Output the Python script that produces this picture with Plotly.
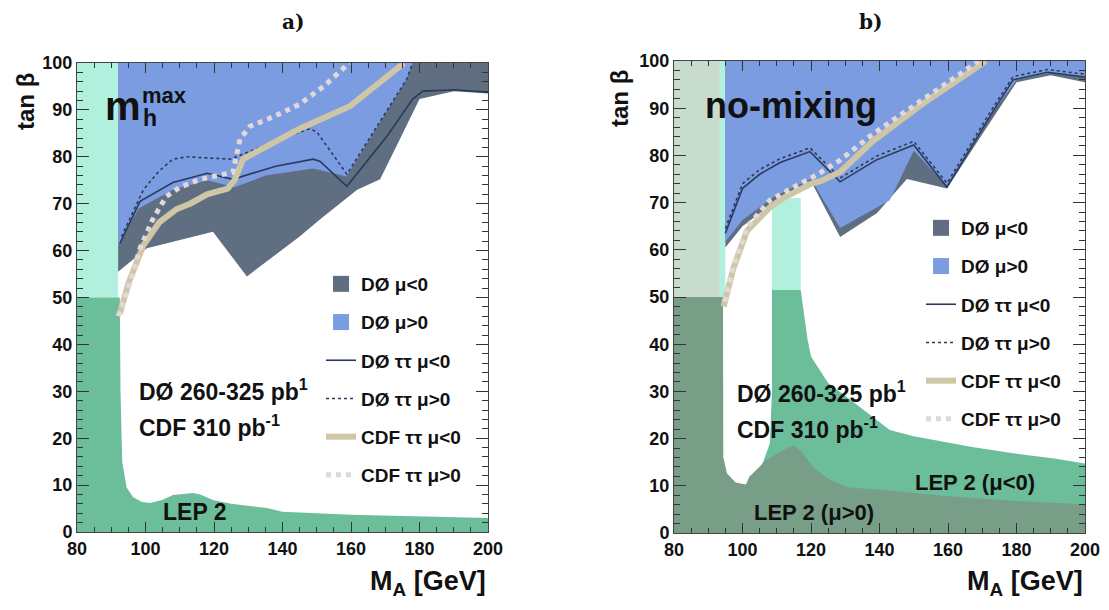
import plotly.graph_objects as go

# ---------------- Panel a) m_h^max ----------------
a_strip_x = [80, 92]
a_strip_y = [50, 100]
a_lep_x = [80, 92.5, 92.7, 93.2, 94.5, 96.4, 99, 101.3, 105, 108, 113.9, 116, 119.7, 125, 135.5, 140, 160, 180, 200]
a_lep_y = [50, 50, 30, 15, 9.5, 7.4, 6.4, 6.2, 6.9, 7.9, 8.3, 8.0, 6.8, 6.0, 5.1, 4.3, 3.7, 3.3, 3.0]
a_grey_x = [92, 100.4, 119.7, 129.6, 145, 151, 161.8, 168.5, 174.3, 180, 190, 200]
a_grey_y = [55.5, 60.5, 64, 54.5, 63, 66.7, 73, 75.2, 83.8, 92.3, 94, 93.5]
a_blue_x = [92, 98, 108, 118, 126, 135, 149, 158.7, 176.3, 178]
a_blue_y = [61, 69, 73, 75, 73.5, 76, 77.5, 75.8, 96.6, 100]
a_d0neg_x = [92.5, 98.4, 108, 118, 125.5, 138, 149, 151, 158.8, 170.5, 178, 181, 190, 200]
a_d0neg_y = [61.5, 70.5, 74.5, 76.5, 75.2, 78, 79.5, 79, 73.7, 84.4, 92.3, 94, 94.3, 93.8]
a_d0pos_x = [93, 99.4, 104, 108, 112, 124.7, 130, 140, 148, 150, 158.8, 176.3, 178]
a_d0pos_y = [63, 73, 77, 79.5, 80, 79.5, 81, 84, 86, 85.3, 76.3, 96.6, 100]
a_cdfneg_x = [92.5, 95, 99.3, 104, 109, 113, 118, 124, 126, 128.5, 135.5, 145, 159.7, 175.5]
a_cdfneg_y = [46.5, 53, 61, 66, 68.8, 70, 72, 73.2, 75, 79.5, 82.3, 86, 90.8, 100]
a_cdfpos_x = [92, 95, 98.4, 102, 106, 110, 116, 122, 125.5, 127.6, 130.5, 137.2, 145, 152, 159.5]
a_cdfpos_y = [46, 52, 60.5, 66.5, 71.5, 73.5, 75.2, 76.2, 76.7, 83.8, 86.5, 88.5, 91.2, 95, 100]

# ---------------- Panel b) no-mixing ----------------
b_pale_x = [80, 93.4]
b_cyan_x = [93.4, 95]
b_strip_y = [50, 100]
b_cyan2_x = [108.6, 117]
b_cyan2_y = [51.5, 71]
b_lepneg_x = [101, 104, 106, 108, 108.6, 108.6, 117, 119, 120, 125, 131.6, 143, 150, 167, 180, 191, 200]
b_lepneg_y = [10.3, 12.5, 15, 19, 30, 51.5, 51.5, 41, 37.4, 31.8, 28.2, 21.8, 20.5, 18.2, 16.8, 15.8, 14.7]
b_leppos_x = [80, 94.3, 94.4, 95.5, 98, 101, 102, 107, 113, 114.8, 117, 120.6, 125, 130.5, 142.8, 160, 180, 196, 200]
b_leppos_y = [50, 50, 16, 12.6, 10.7, 10.3, 11.9, 15.5, 18, 18.6, 17.5, 14, 11.5, 9.7, 9, 7.8, 6.8, 6.2, 6.1]
b_grey_x = [95, 100, 110, 120, 128.5, 139.3, 148, 159.7, 170, 180, 190, 200]
b_grey_y = [60.5, 65, 70.5, 74.5, 62.7, 67.8, 75, 73, 84.5, 95.5, 97, 95.5]
b_blue_x = [95, 100, 109, 116.8, 120, 128.5, 143, 150, 159.7, 172, 180, 190, 200]
b_blue_y = [61.7, 66.3, 71.2, 74, 75, 64.6, 70.5, 81, 73.5, 88, 96, 97.5, 96.5]
b_d0_x = [95, 100, 105, 111, 119.7, 128.5, 139, 150, 159.7, 172, 179, 189, 200]
b_d0neg_y = [63.5, 73, 76, 78.5, 80.8, 74.4, 79, 82.2, 73.3, 88, 96, 97.6, 96.6]
b_d0pos_y = [64.5, 74, 77, 79.3, 81.6, 75.2, 79.8, 83, 74.1, 88.8, 96.7, 98.2, 97.2]
b_cdfneg_x = [94.5, 97.3, 101.3, 105, 108, 112, 116.8, 120, 122.6, 128.5, 138, 152.7, 168.5, 171]
b_cdfneg_y = [48, 56, 64, 67, 69, 71, 72.6, 74, 74.5, 76.5, 83, 91, 98.7, 100]
b_cdfpos_x = [94.8, 97.5, 101.5, 108, 116.8, 122, 128.5, 138, 150, 160, 169]
b_cdfpos_y = [49, 57, 65, 70.5, 74, 76, 79, 84.5, 90.5, 95.5, 100]

legend_names = ["DØ μ&lt;0", "DØ μ&gt;0", "DØ ττ μ&lt;0", "DØ ττ μ&gt;0", "CDF ττ μ&lt;0", "CDF ττ μ&gt;0"]

C_GREY = "#5f6e80"
C_BLUE = "#7b9ce0"
C_GREEN = "#6cbe9b"
C_CYAN = "#b0f0dc"
C_PALE = "#c8dccd"
C_DARKLEP = "#789e88"
C_LINE = "#2b3a5c"
C_CDFNEG = "#cfc6a6"
C_CDFPOS = "#e2d8da"

YTOP = 100
YBOT = 0

# The page body has an 8px margin: the figure is sized to fill the rest of the window.
W, H, OFF = 1101, 602, 8


def px(xp):
    return (xp - OFF) / W


def py(yp):
    return 1 - (yp - OFF) / H


fig = go.Figure()


def band(xs, ys, color, xa, ya):
    fig.add_trace(go.Scatter(x=[xs[0], xs[1], xs[1], xs[0]], y=[ys[0], ys[0], ys[1], ys[1]],
                             fill="toself", fillcolor=color, mode="lines", line=dict(width=0),
                             showlegend=False, hoverinfo="skip", xaxis=xa, yaxis=ya))


def upper_region(xs, ys, color, xa, ya):
    fig.add_trace(go.Scatter(x=xs + [xs[-1], xs[0]], y=ys + [YTOP, YTOP],
                             fill="toself", fillcolor=color, mode="lines", line=dict(width=0),
                             showlegend=False, hoverinfo="skip", xaxis=xa, yaxis=ya))


def lower_region(xs, ys, color, xa, ya):
    fig.add_trace(go.Scatter(x=xs + [xs[-1], xs[0]], y=ys + [YBOT, YBOT],
                             fill="toself", fillcolor=color, mode="lines", line=dict(width=0),
                             showlegend=False, hoverinfo="skip", xaxis=xa, yaxis=ya))


def line(xs, ys, color, width, dash, xa, ya, name, lg, rank):
    fig.add_trace(go.Scatter(x=xs, y=ys, mode="lines", line=dict(color=color, width=width, dash=dash),
                             name=name, legend=lg, legendgroup=lg + name, legendrank=rank,
                             showlegend=True, hoverinfo="skip", xaxis=xa, yaxis=ya))


def swatch(color, xa, ya, name, lg, rank):
    fig.add_trace(go.Scatter(x=[None], y=[None], mode="markers",
                             marker=dict(symbol="square", size=16, color=color),
                             name=name, legend=lg, legendgroup=lg + name, legendrank=rank,
                             showlegend=True, hoverinfo="skip", xaxis=xa, yaxis=ya))


# ---- panel a
band(a_strip_x, a_strip_y, C_CYAN, "x", "y")
lower_region(a_lep_x, a_lep_y, C_GREEN, "x", "y")
upper_region(a_grey_x, a_grey_y, C_GREY, "x", "y")
upper_region(a_blue_x, a_blue_y, C_BLUE, "x", "y")
swatch(C_GREY, "x", "y", legend_names[0], "legend", 1)
swatch(C_BLUE, "x", "y", legend_names[1], "legend", 2)
line(a_d0neg_x, a_d0neg_y, C_LINE, 1.6, "solid", "x", "y", legend_names[2], "legend", 3)
line(a_d0pos_x, a_d0pos_y, C_LINE, 1.6, "dot", "x", "y", legend_names[3], "legend", 4)
line(a_cdfneg_x, a_cdfneg_y, C_CDFNEG, 6, "solid", "x", "y", legend_names[4], "legend", 5)
line(a_cdfpos_x, a_cdfpos_y, C_CDFPOS, 5, "dot", "x", "y", legend_names[5], "legend", 6)

# ---- panel b
band(b_pale_x, b_strip_y, C_PALE, "x2", "y2")
band(b_cyan_x, b_strip_y, C_CYAN, "x2", "y2")
band(b_cyan2_x, b_cyan2_y, C_CYAN, "x2", "y2")
lower_region(b_lepneg_x, b_lepneg_y, C_GREEN, "x2", "y2")
lower_region(b_leppos_x, b_leppos_y, C_DARKLEP, "x2", "y2")
upper_region(b_grey_x, b_grey_y, C_GREY, "x2", "y2")
upper_region(b_blue_x, b_blue_y, C_BLUE, "x2", "y2")
swatch(C_GREY, "x2", "y2", legend_names[0], "legend2", 1)
swatch(C_BLUE, "x2", "y2", legend_names[1], "legend2", 2)
line(b_d0_x, b_d0neg_y, C_LINE, 1.6, "solid", "x2", "y2", legend_names[2], "legend2", 3)
line(b_d0_x, b_d0pos_y, C_LINE, 1.6, "dot", "x2", "y2", legend_names[3], "legend2", 4)
line(b_cdfneg_x, b_cdfneg_y, C_CDFNEG, 6, "solid", "x2", "y2", legend_names[4], "legend2", 5)
line(b_cdfpos_x, b_cdfpos_y, C_CDFPOS, 5, "dot", "x2", "y2", legend_names[5], "legend2", 6)

FONT = "Liberation Sans, Arial, sans-serif"
tickfont = dict(family=FONT, size=18, color="#111", weight="bold")


def xax(domain, anchor):
    return dict(domain=domain, anchor=anchor, range=[80, 200], dtick=20, tick0=80,
                ticks="inside", ticklen=10, tickwidth=1, tickcolor="#333",
                minor=dict(dtick=5, ticks="inside", ticklen=5, tickcolor="#333"),
                showline=True, linecolor="#444", linewidth=1, mirror="allticks",
                showgrid=False, zeroline=False, tickfont=tickfont, fixedrange=True,
                automargin=False)


def yax(domain, anchor):
    return dict(domain=domain, anchor=anchor, range=[0, 100], dtick=10, tick0=0,
                ticks="inside", ticklen=12, tickwidth=1, tickcolor="#333",
                minor=dict(dtick=2, ticks="inside", ticklen=6, tickcolor="#333"),
                showline=True, linecolor="#444", linewidth=1, mirror="allticks",
                showgrid=False, zeroline=False, tickfont=tickfont, fixedrange=True,
                automargin=False)


legfont = dict(family=FONT, size=19, color="#111", weight="bold")

fig.update_layout(
    width=W, height=H,
    margin=dict(l=0, r=0, t=0, b=0, autoexpand=False),
    paper_bgcolor="white", plot_bgcolor="white",
    xaxis=xax([px(77), px(488)], "y"),
    yaxis=yax([py(532), py(63)], "x"),
    xaxis2=xax([px(674), px(1085)], "y2"),
    yaxis2=yax([py(533), py(61)], "x2"),
    legend=dict(x=px(321), y=py(265), xanchor="left", yanchor="top", bgcolor="rgba(0,0,0,0)",
                font=legfont, tracegroupgap=10.5, itemwidth=30, traceorder="grouped"),
    legend2=dict(x=px(921), y=py(209), xanchor="left", yanchor="top", bgcolor="rgba(0,0,0,0)",
                 font=legfont, tracegroupgap=10.5, itemwidth=30, traceorder="grouped"),
    showlegend=True,
)

txt = dict(family=FONT, color="#111", weight="bold")
ttl = dict(family="DejaVu Serif", size=20, color="#111", weight="bold")
ann = []
ann.append(dict(text="a)", x=px(293), y=py(22), xref="paper", yref="paper", xanchor="center",
                yanchor="middle", showarrow=False, font=ttl))
ann.append(dict(text="b)", x=px(870), y=py(22), xref="paper", yref="paper", xanchor="center",
                yanchor="middle", showarrow=False, font=ttl))
for xp, yp in ((25, 102), (619, 99)):
    ann.append(dict(text="tan β", x=px(xp), y=py(yp), xref="paper", yref="paper", xanchor="center",
                    yanchor="middle", showarrow=False, textangle=-90, font=dict(size=24, **txt)))
for xp in (488, 1085):
    ann.append(dict(text="M<sub>A</sub> [GeV]", x=px(xp), y=py(583), xref="paper", yref="paper",
                    xanchor="right", yanchor="middle", showarrow=False, font=dict(size=27, **txt)))
ann.append(dict(text="m", x=87.6, y=90.8, xref="x", yref="y", xanchor="left", yanchor="middle",
                showarrow=False, font=dict(size=40, **txt)))
ann.append(dict(text="max", x=98.4, y=93.0, xref="x", yref="y", xanchor="left", yanchor="middle",
                showarrow=False, font=dict(size=22, **txt)))
ann.append(dict(text="h", x=98.7, y=88.2, xref="x", yref="y", xanchor="left", yanchor="middle",
                showarrow=False, font=dict(size=23, **txt)))
ann.append(dict(text="DØ 260-325 pb<sup>1</sup>", x=97.5, y=30.3, xref="x", yref="y", xanchor="left",
                yanchor="middle", showarrow=False, font=dict(size=23, **txt)))
ann.append(dict(text="CDF 310 pb<sup>-1</sup>", x=97.5, y=22.6, xref="x", yref="y", xanchor="left",
                yanchor="middle", showarrow=False, font=dict(size=23, **txt)))
ann.append(dict(text="LEP 2", x=114.5, y=4.3, xref="x", yref="y", xanchor="center", yanchor="middle",
                showarrow=False, font=dict(size=23, **txt)))
ann.append(dict(text="no-mixing", x=88.5, y=90.5, xref="x2", yref="y2", xanchor="left", yanchor="middle",
                showarrow=False, font=dict(size=36, **txt)))
ann.append(dict(text="DØ 260-325 pb<sup>1</sup>", x=97.8, y=29.9, xref="x2", yref="y2", xanchor="left",
                yanchor="middle", showarrow=False, font=dict(size=23, **txt)))
ann.append(dict(text="CDF 310 pb<sup>-1</sup>", x=97.8, y=22.2, xref="x2", yref="y2", xanchor="left",
                yanchor="middle", showarrow=False, font=dict(size=23, **txt)))
ann.append(dict(text="LEP 2 (μ&lt;0)", x=149.8, y=10.8, xref="x2", yref="y2", xanchor="left",
                yanchor="middle", showarrow=False, font=dict(size=22, **txt)))
ann.append(dict(text="LEP 2 (μ&gt;0)", x=102.8, y=4.4, xref="x2", yref="y2", xanchor="left",
                yanchor="middle", showarrow=False, font=dict(size=22, **txt)))
fig.update_layout(annotations=ann)

fig.write_html("out.html")
